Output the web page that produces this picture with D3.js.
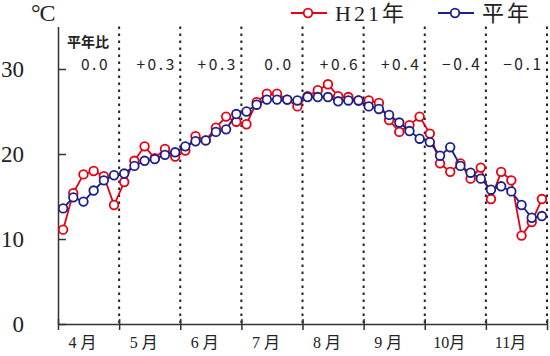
<!DOCTYPE html>
<html><head><meta charset="utf-8">
<script src="https://cdn.jsdelivr.net/npm/d3@7"></script>
<style>
html,body{margin:0;padding:0;background:#fff;}
svg{display:block;}
</style></head>
<body><svg id="c" width="550" height="356"></svg>
<script>
const months = ["4 月","5 月","6 月","7 月","8 月","9 月","10月","11月"];
const diffs = ["0.0","+0.3","+0.3","0.0","+0.6","+0.4","\u22120.4","\u22120.1"];
const yTicks = [0,10,20,30];
const seriesNames = ["H21年","平年"];
const h21 = [11.1,15.4,17.6,18.0,17.4,14.0, 16.7,19.2,20.9,19.5,20.6,19.7,
             20.4,22.1,21.6,23.1,24.4,23.8, 23.5,26.1,27.1,27.1,26.4,25.6,
             26.8,27.5,28.2,26.8,26.7,26.3, 26.3,26.0,24.0,22.6,23.4,24.4,
             22.4,18.9,17.9,18.9,17.1,18.4, 14.7,17.9,16.9,10.4,12.0,14.7];
const normal = [13.6,14.9,14.4,15.7,16.9,17.5, 17.7,18.6,19.2,19.4,19.9,20.2,
                20.9,21.5,21.6,22.6,22.9,24.7, 25.0,25.8,26.4,26.4,26.4,26.3,
                26.7,26.7,26.7,26.2,26.3,26.3, 25.6,25.3,24.6,23.7,22.7,21.8,
                21.4,19.8,20.8,18.6,17.8,17.1, 15.8,16.2,15.6,14.0,12.5,12.7];
const colors = ["#e60012","#1d2088"];

const svg = d3.select("#c");
const L = 58, R = 547, B = 324, T = 26.5;
const perMonth = 6;
const x = d3.scaleLinear().domain([0, months.length*perMonth]).range([L, R]);
const y = d3.scaleLinear().domain([0, 35]).range([B, T]);
const serif = "'Liberation Serif','DejaVu Serif','Noto Sans CJK JP',serif";
const sansJP = "'Noto Sans CJK JP','Noto Sans',sans-serif";

// dotted month separators
const bounds = d3.range(1, months.length+1).map(i => i*perMonth);
svg.append("g").selectAll("line").data(bounds).join("line")
  .attr("x1", d => x(d)).attr("x2", d => x(d))
  .attr("y1", y(35)).attr("y2", B)
  .attr("stroke", "#222").attr("stroke-width", 2)
  .attr("stroke-dasharray", "2.5,4.5");

// x axis
const xb = d3.axisBottom(x).tickValues(d3.range(0, months.length+1).map(i=>i*perMonth))
  .tickSizeInner(6).tickSizeOuter(0).tickFormat("");
const gx = svg.append("g").attr("transform", `translate(0,${B})`).call(xb);
const xt = d3.axisTop(x).tickValues(d3.range(0, months.length+1).map(i=>i*perMonth))
  .tickSizeInner(5).tickSizeOuter(0).tickFormat("");
const gx2 = svg.append("g").attr("transform", `translate(0,${B})`).call(xt);
gx2.select(".domain").remove();
[gx, gx2].forEach(g => {
  g.selectAll("line").attr("stroke", "#333").attr("stroke-width", 1.5);
  g.select(".domain").attr("stroke", "#333").attr("stroke-width", 1.5);
});

// y axis
const ya = d3.axisLeft(y).tickValues(yTicks).tickSizeInner(-8).tickSizeOuter(0).tickPadding(34);
const gy = svg.append("g").attr("transform", `translate(${L},0)`).call(ya);
gy.select(".domain").attr("stroke", "#333").attr("stroke-width", 1.5);
gy.selectAll(".tick line").attr("stroke", "#333").attr("stroke-width", 1.5);
gy.selectAll(".tick text").attr("font-family", serif).attr("font-size", 23)
  .attr("fill", "#222").attr("dy", "0.33em");

// month labels
svg.append("g").selectAll("text").data(months).join("text")
  .attr("x", (d,i) => x(i*perMonth + perMonth/2) - 6)
  .attr("y", 348).attr("text-anchor", "middle")
  .attr("font-family", serif).attr("font-size", 16).attr("fill", "#222")
  .style("white-space", "pre").text(d => d);

// 平年比 header and values
svg.append("text").attr("x", 67).attr("y", 47)
  .attr("font-family", sansJP).attr("font-weight", "bold").attr("font-size", 14)
  .attr("fill", "#222").text("平年比");
svg.append("g").selectAll("text").data(diffs).join("text")
  .attr("x", (d,i) => x(i*perMonth + perMonth/2) + 7)
  .attr("y", 70).attr("text-anchor", "middle")
  .attr("font-family", sansJP).attr("font-size", 15.5).attr("letter-spacing", 2.6)
  .attr("fill", "#222").text(d => d);

// unit
svg.append("text").attr("x", 31).attr("y", 21)
  .attr("font-family", serif).attr("font-size", 24).attr("letter-spacing", -1)
  .attr("fill", "#222").text("°C");

// series
const line = d3.line().x((d,i) => x(i+0.5)).y(d => y(d));
[h21, normal].forEach((data, k) => {
  const g = svg.append("g");
  g.append("path").datum(data).attr("d", line)
    .attr("fill", "none").attr("stroke", colors[k]).attr("stroke-width", 1.8);
  g.selectAll("circle").data(data).join("circle")
    .attr("cx", (d,i) => x(i+0.5)).attr("cy", d => y(d)).attr("r", 4.3)
    .attr("fill", "#fff").attr("stroke", colors[k]).attr("stroke-width", 1.8);
});

// legend
const legX = [291, 438];
seriesNames.forEach((name, k) => {
  const g = svg.append("g");
  g.append("line").attr("x1", legX[k]).attr("x2", legX[k]+36).attr("y1", 13).attr("y2", 13)
    .attr("stroke", colors[k]).attr("stroke-width", 2);
  g.append("circle").attr("cx", legX[k]+17).attr("cy", 13).attr("r", 4.3)
    .attr("fill", "#fff").attr("stroke", colors[k]).attr("stroke-width", 1.8);
  g.append("text").attr("x", legX[k]+44).attr("y", 21)
    .attr("font-family", serif).attr("font-size", 22).attr("letter-spacing", 3)
    .attr("fill", "#222").text(name);
});
</script></body></html>
